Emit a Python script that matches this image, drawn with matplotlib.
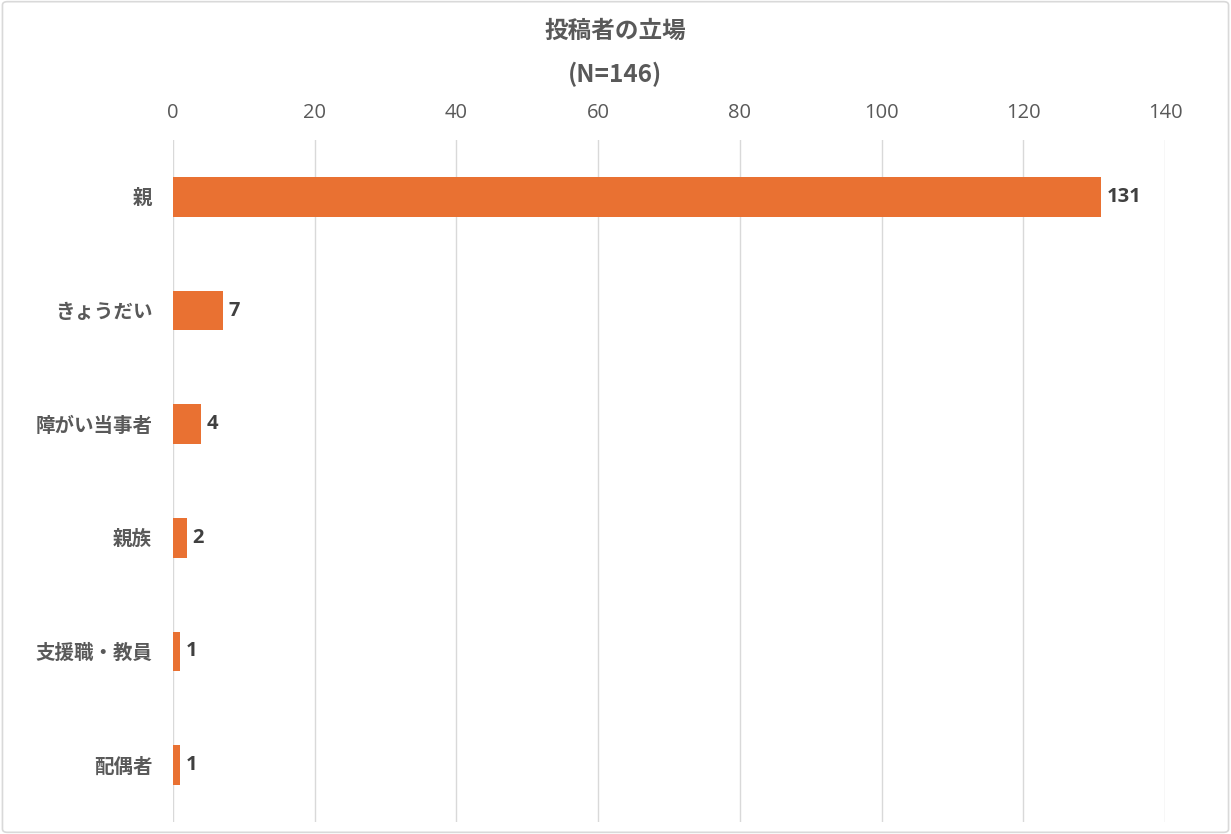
import matplotlib
matplotlib.use("Agg")
from matplotlib import pyplot as plt
from matplotlib.patches import FancyBboxPatch

plt.rcParams['font.family'] = ['Noto Sans CJK JP', 'DejaVu Sans']

categories = ['親', 'きょうだい', '障がい当事者', '親族', '支援職・教員', '配偶者']
counts = [131, 7, 4, 2, 1, 1]
x_ticks = [0, 20, 40, 60, 80, 100, 120, 140]

bar_color = '#E97132'
text_color = '#595959'
num_font = ['Open Sans', 'Noto Sans CJK JP']

fig = plt.figure(figsize=(12.31, 8.34), dpi=100)
ax = fig.add_axes([173 / 1231, 12 / 834, 992 / 1231, 682 / 834])

y_pos = list(range(len(categories)))
ax.barh(y_pos, counts, height=0.35, color=bar_color, zorder=3)
ax.set_ylim(len(categories) - 0.5, -0.5)
ax.set_xlim(0, 140)

ax.set_yticks(y_pos)
ax.set_yticklabels(categories, fontsize=14, fontweight='bold', color=text_color)
ax.set_xticks(x_ticks)
ax.set_xticklabels([str(t) for t in x_ticks], family=num_font, fontsize=14.5, color=text_color)
ax.xaxis.tick_top()
ax.tick_params(axis='x', length=0, pad=12)
ax.tick_params(axis='y', length=0, pad=15)

ax.grid(axis='x', color='#D9D9D9', linewidth=1, zorder=0)
for s in ax.spines.values():
    s.set_visible(False)

for y, v in zip(y_pos, counts):
    ax.annotate(str(v), (v, y), xytext=(4, 0), textcoords='offset points',
                va='center', ha='left', family=num_font, fontsize=14.5,
                fontweight='bold', color='#404040')

fig.text(0.5, 0.963, '投稿者の立場', ha='center', va='center', fontsize=17,
         fontweight='bold', color=text_color)
fig.text(0.5, 0.911, '(N=146)', ha='center', va='center', fontsize=17.5,
         fontweight='bold', color=text_color)

border = FancyBboxPatch((0.002, 0.002), 0.996, 0.996, boxstyle='round,pad=0,rounding_size=0.004',
                        transform=fig.transFigure, fill=False, edgecolor='#D9D9D9', linewidth=1.2)
fig.patches.append(border)

fig.savefig('out.png', dpi=100)
